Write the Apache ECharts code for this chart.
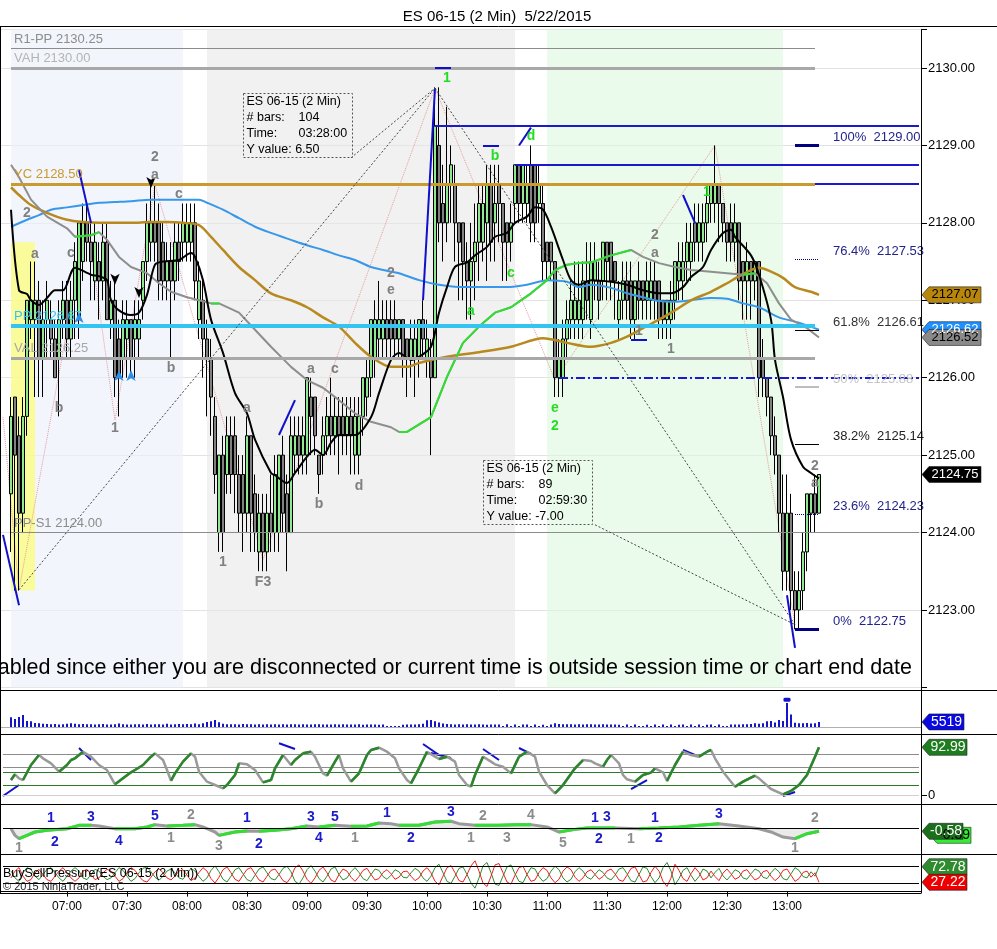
<!DOCTYPE html>
<html><head><meta charset="utf-8">
<script src="https://cdn.jsdelivr.net/npm/echarts@6.0.0/dist/echarts.min.js"></script>
<style>html,body{margin:0;padding:0;background:#fff;}#chart{width:997px;height:949px;}</style>
</head><body><div id="chart"></div>
<script>
// ================= DATA =================
const firstCategory = '06:28';      // first slot of the time axis (2-min bars)
const categoryCount = 230;
const barOffset = 2;                // first bar (06:32) sits in slot 2
const timeTicks = ['07:00','07:30','08:00','08:30','09:00','09:30','10:00','10:30','11:00','11:30','12:00','12:30','13:00'];
const priceTicks = [2123,2124,2125,2126,2127,2128,2129,2130];

// [open, close, low, high] per 2-min bar from 06:32
const ohlc = [
[2124.5,2125.5,2123.75,2125.75],[2125.75,2125.0,2123.25,2125.75],[2125.25,2124.25,2123.25,2125.5],[2124.25,2125.5,2124.0,2125.75],
[2125.5,2127.0,2125.25,2127.0],[2126.75,2127.0,2126.5,2127.5],[2126.75,2127.0,2125.75,2127.5],[2127.0,2126.25,2125.75,2127.25],
[2126.25,2126.75,2125.75,2127.0],[2126.75,2127.0,2126.25,2127.25],[2126.75,2126.5,2126.25,2127.0],[2126.5,2126.0,2126.0,2126.75],
[2126.25,2126.75,2125.5,2127.0],[2126.75,2127.0,2126.5,2127.25],[2127.0,2126.5,2126.25,2127.25],[2126.5,2127.0,2126.25,2127.25],
[2127.0,2127.5,2126.5,2127.75],[2126.75,2128.0,2126.5,2128.0],[2127.5,2128.0,2127.25,2128.25],[2128.0,2127.75,2127.5,2128.25],
[2127.75,2127.5,2127.0,2128.0],[2127.25,2127.75,2127.0,2128.0],[2127.5,2127.25,2126.75,2127.75],[2127.25,2127.75,2127.0,2128.0],
[2127.75,2126.75,2126.75,2128.0],[2126.75,2127.0,2126.5,2127.25],[2127.0,2126.0,2125.75,2127.25],[2126.5,2126.0,2125.5,2126.75],
[2126.25,2126.75,2126.0,2127.0],[2126.5,2126.75,2126.0,2127.0],[2126.75,2126.25,2126.0,2126.75],[2126.5,2126.75,2126.0,2127.0],
[2126.5,2126.75,2126.25,2127.0],[2127.0,2127.5,2126.75,2127.5],[2127.5,2128.0,2127.25,2128.25],[2127.75,2128.0,2127.5,2128.5],
[2128.0,2127.75,2127.5,2128.5],[2128.0,2127.25,2127.0,2128.25],[2127.75,2127.25,2127.0,2128.0],[2127.25,2127.5,2127.0,2127.75],
[2127.5,2127.25,2126.25,2127.75],[2127.25,2127.75,2127.0,2128.0],[2127.75,2127.5,2127.25,2128.0],[2127.75,2128.0,2127.5,2128.25],
[2127.75,2128.0,2127.5,2128.25],[2127.75,2128.0,2127.5,2128.25],[2128.0,2127.25,2127.0,2128.25],[2126.75,2127.25,2126.5,2127.5],
[2127.0,2126.5,2126.0,2127.25],[2126.5,2126.25,2125.5,2126.75],[2126.25,2125.75,2125.25,2126.5],[2125.5,2124.75,2124.5,2125.75],
[2124.0,2125.0,2123.75,2125.0],[2125.0,2124.0,2123.75,2125.25],[2124.75,2125.25,2124.5,2125.5],[2125.25,2124.75,2124.5,2125.5],
[2125.25,2124.75,2124.25,2125.5],[2124.75,2124.25,2124.0,2125.0],[2124.75,2124.25,2123.75,2125.0],[2124.25,2125.25,2124.0,2125.5],
[2125.25,2124.25,2123.75,2125.25],[2124.5,2124.0,2123.75,2124.75],[2123.75,2124.25,2123.5,2124.5],[2124.25,2123.75,2123.5,2124.5],
[2123.75,2124.25,2123.5,2124.5],[2124.25,2124.0,2123.75,2124.75],[2124.0,2124.75,2123.75,2125.0],[2124.0,2125.0,2123.75,2125.0],
[2125.0,2124.25,2124.0,2125.25],[2124.5,2124.0,2123.5,2124.75],[2124.0,2125.25,2124.0,2125.5],[2125.0,2125.25,2124.75,2125.5],
[2125.25,2125.0,2124.75,2125.5],[2125.0,2125.25,2124.75,2125.5],[2125.0,2126.0,2124.75,2126.0],[2125.75,2125.5,2125.0,2126.0],
[2125.75,2125.25,2125.0,2125.75],[2125.0,2124.75,2124.5,2125.0],[2125.0,2125.25,2124.75,2125.5],[2125.25,2125.5,2125.0,2125.75],
[2125.5,2125.25,2125.0,2126.0],[2125.25,2125.5,2125.0,2125.75],[2125.5,2125.25,2124.75,2125.75],[2125.5,2125.25,2125.0,2125.75],
[2125.25,2125.5,2125.0,2125.75],[2125.5,2125.25,2124.75,2125.75],[2125.0,2125.5,2124.75,2125.75],[2125.0,2125.5,2124.75,2125.75],
[2125.5,2126.0,2125.25,2126.0],[2125.75,2126.0,2125.5,2126.25],[2126.0,2126.75,2125.75,2126.75],[2126.25,2126.75,2126.0,2127.0],
[2126.5,2126.75,2126.25,2127.25],[2126.5,2126.75,2126.25,2127.0],[2126.75,2126.5,2126.25,2127.0],[2126.75,2126.5,2126.25,2127.0],
[2126.75,2126.5,2126.25,2127.0],[2126.5,2126.75,2126.25,2126.75],[2126.75,2126.25,2126.0,2126.75],[2126.5,2126.25,2125.75,2126.5],
[2126.25,2126.5,2126.0,2126.75],[2126.25,2126.5,2125.75,2126.75],[2126.25,2126.75,2126.0,2126.75],[2126.75,2126.5,2126.25,2127.0],
[2126.25,2126.5,2126.0,2126.75],[2126.25,2126.0,2125.0,2126.5],[2126.0,2129.25,2126.0,2129.75],[2129.0,2128.0,2127.75,2129.75],
[2128.25,2128.0,2127.5,2128.75],[2128.0,2128.5,2127.75,2129.5],[2128.5,2128.75,2128.0,2129.0],[2128.5,2128.0,2127.5,2128.75],
[2128.0,2127.75,2127.0,2128.0],[2128.0,2127.5,2127.0,2128.0],[2127.5,2127.25,2126.75,2127.75],[2127.25,2127.5,2126.75,2128.0],
[2127.5,2127.75,2127.0,2128.25],[2127.75,2128.25,2127.25,2128.5],[2127.75,2128.25,2127.5,2128.5],[2128.0,2128.5,2127.25,2128.75],
[2128.5,2127.75,2127.5,2128.75],[2128.0,2128.25,2127.5,2128.75],[2128.5,2128.25,2127.75,2128.75],[2128.25,2127.75,2127.25,2128.25],
[2128.0,2127.75,2127.25,2128.0],[2127.75,2128.0,2127.5,2128.25],[2128.25,2128.75,2128.0,2128.75],[2128.75,2128.25,2128.0,2128.75],
[2128.25,2128.75,2128.0,2128.75],[2128.25,2128.5,2128.0,2128.75],[2128.75,2128.0,2127.75,2129.0],[2128.75,2128.0,2127.75,2128.75],
[2128.25,2128.5,2128.0,2128.75],[2128.25,2127.5,2127.25,2128.5],[2127.75,2127.5,2127.25,2127.75],[2127.75,2127.5,2127.25,2127.75],
[2127.5,2126.0,2125.75,2127.5],[2126.0,2126.25,2125.75,2126.5],[2126.0,2126.5,2125.75,2126.75],[2126.5,2126.75,2126.25,2127.0],
[2126.75,2127.0,2126.5,2127.25],[2126.75,2127.0,2126.5,2127.5],[2126.75,2127.0,2126.5,2127.5],[2126.75,2127.25,2126.5,2127.5],
[2127.25,2127.0,2126.75,2127.75],[2126.75,2127.5,2126.5,2127.75],[2127.25,2127.5,2127.0,2127.75],[2127.25,2127.0,2126.75,2127.5],
[2127.25,2127.75,2127.0,2127.75],[2127.75,2127.5,2127.0,2127.75],[2127.75,2127.25,2127.0,2127.75],[2127.5,2127.25,2126.75,2127.5],
[2126.75,2127.0,2126.5,2127.25],[2127.0,2127.25,2126.75,2127.5],[2127.25,2127.0,2126.75,2127.5],[2127.25,2126.75,2126.5,2127.5],
[2126.75,2127.25,2126.5,2127.25],[2127.25,2127.0,2126.75,2127.5],[2127.25,2127.0,2126.75,2127.25],[2127.0,2127.25,2126.75,2127.5],
[2127.0,2127.25,2126.75,2127.5],[2127.25,2127.0,2126.75,2127.5],[2127.25,2126.75,2126.5,2127.25],[2127.0,2126.75,2126.5,2127.0],
[2126.75,2127.0,2126.5,2127.0],[2126.75,2127.0,2126.5,2127.25],[2127.0,2127.5,2126.75,2127.5],[2127.25,2127.5,2127.0,2127.75],
[2127.25,2127.5,2127.0,2127.75],[2127.5,2127.75,2127.25,2128.0],[2127.5,2127.75,2127.25,2128.0],[2128.0,2127.75,2127.5,2128.25],
[2127.75,2128.0,2127.5,2128.25],[2127.75,2128.0,2127.5,2128.25],[2128.0,2128.25,2127.75,2128.5],[2128.25,2128.5,2128.0,2128.5],
[2128.25,2128.5,2128.0,2129.0],[2128.5,2128.25,2127.75,2128.5],[2128.25,2128.0,2127.75,2128.25],[2128.0,2127.75,2127.5,2128.0],
[2128.0,2127.75,2127.5,2128.25],[2127.75,2128.0,2127.5,2128.25],[2128.0,2127.25,2127.0,2128.0],[2127.5,2127.25,2126.75,2127.5],
[2127.25,2127.5,2126.75,2127.75],[2127.5,2127.25,2126.75,2127.5],[2127.25,2127.5,2127.0,2127.5],[2127.5,2126.0,2125.75,2127.5],
[2126.25,2126.0,2125.75,2126.5],[2126.0,2125.75,2125.5,2126.0],[2125.75,2125.25,2125.0,2125.75],[2125.25,2125.0,2124.75,2125.5],
[2125.0,2124.25,2124.0,2125.0],[2124.25,2123.5,2123.25,2124.75],[2123.5,2124.25,2123.25,2124.75],[2124.25,2123.25,2123.0,2124.5],
[2123.25,2123.0,2122.75,2123.5],[2123.0,2123.25,2122.75,2123.5],[2123.25,2123.75,2123.0,2124.0],[2123.75,2124.5,2123.5,2124.5],
[2124.25,2124.5,2124.0,2124.5],[2124.5,2124.25,2124.0,2124.75],[2124.25,2124.75,2124.25,2124.75]
];

const volume = [
10500,8600,10800,12900,6500,6200,4300,4000,3500,3200,
3000,3200,2800,3100,3400,4200,3600,3000,3300,2900,
3100,2700,3000,3200,2600,2800,3100,3900,3000,2800,
2700,3100,2900,2600,3300,2800,2900,3000,2700,3400,
2800,3000,3200,2900,3300,3000,3800,3100,4200,5400,
6300,7600,5200,3600,3100,2900,3000,2800,3200,3000,
2900,2700,3100,2800,3000,2600,2900,2700,3000,2800,
3100,2900,2700,3000,2800,2600,2900,3100,2700,2800,
2600,2900,2700,3000,2800,2600,2700,2900,2500,2800,
2600,2700,2500,2800,1200,1000,1100,1000,2400,2600,
2700,2800,3000,3400,7400,7600,6200,4800,3900,3200,
3000,2800,3100,2700,2900,2600,2800,3000,2700,2500,
2800,2600,2700,1200,2900,1100,2600,1000,2800,2700,
1200,2600,1000,2500,1100,2700,4200,3300,3100,2900,
3000,2800,3100,2700,2900,3000,2800,2600,2900,2700,
2800,2600,2500,1100,2700,1000,2600,1200,1000,2500,
1100,2700,1000,2600,1200,2800,1000,2500,2700,1100,
2600,1000,2800,1100,2500,2700,1000,2600,1200,1000,
2600,2800,2700,3000,3100,3300,4200,3600,4000,6200,
6400,5000,7600,6500,26000,13500,4600,4200,4000,4300,
3900,4100,5519
];

const buyPressure = [
60,40,30,55,70,65,45,35,50,65, 70,55,40,30,45,60,70,60,40,35,
50,65,60,45,35,40,55,70,62,45, 30,38,55,68,72,58,42,33,45,60,
66,55,40,36,52,68,60,44,30,40, 62,75,58,36,28,45,64,70,52,35,
30,48,66,72,55,38,34,50,68,74, 58,30,22,40,64,76,60,38,28,45,
66,72,50,34,40,58,70,56,38,32, 50,66,62,44,36,48,64,58,42,40,
55,68,60,40,30,45,70,80,55,30, 24,45,68,72,50,25,10,40,75,85,
55,22,18,45,72,78,52,30,26,50, 70,66,44,30,38,60,74,64,40,28,
36,58,70,60,42,36,50,64,56,40, 34,48,66,70,52,32,28,50,72,68,
44,26,40,70,85,60,20,38,62,70, 48,30,44,66,60,40,56,68,46,34,
48,64,58,40,36,52,66,60,42,38, 55,68,58,38,34,52,70,62,44,40,
58,45,72.78
];
const sellPressure = [
40,60,70,45,30,35,55,65,50,35, 30,45,60,70,55,40,30,40,60,65,
50,35,40,55,65,60,45,30,38,55, 70,62,45,32,28,42,58,67,55,40,
34,45,60,64,48,32,40,56,70,60, 38,25,42,64,72,55,36,30,48,65,
70,52,34,28,45,62,66,50,32,26, 42,70,78,60,36,24,40,62,72,55,
34,28,50,66,60,42,30,44,62,68, 50,34,38,56,64,52,36,42,58,60,
45,32,40,60,70,55,30,20,45,70, 76,55,32,28,50,75,90,60,25,15,
45,78,82,55,28,22,48,70,74,50, 30,34,56,70,62,40,26,36,60,72,
64,42,30,40,58,64,50,36,44,60, 66,52,34,30,48,68,72,50,28,32,
56,74,60,30,15,40,80,62,38,30, 52,70,56,34,40,60,44,32,54,66,
52,36,42,60,64,48,34,40,58,62, 45,32,42,62,66,48,30,38,56,60,
42,55,27.22
];

// moving averages: [bar index, price]
const emaFast = [[0,2128.17],[2,2127.13],[4,2127.08],[5,2127.0],[7,2126.94],[9,2127.03],[11,2127.13],[13,2127.13],[16,2127.42],[20,2127.33],[22,2127.31],[24,2127.26],[25,2127.0],[27,2126.87],[30,2126.81],[32,2126.84],[34,2127.07],[36,2127.46],[38,2127.5],[42,2127.52],[45,2127.61],[46,2127.56],[48,2127.26],[50,2126.75],[53,2126.32],[56,2125.8],[59,2125.54],[61,2125.2],[65,2124.77],[66,2124.74],[69,2124.64],[71,2124.77],[74,2124.98],[76,2125.07],[78,2125.0],[80,2125.16],[82,2125.26],[86,2125.26],[90,2125.49],[92,2125.8],[95,2126.23],[97,2126.32],[100,2126.23],[102,2126.27],[105,2126.4],[107,2126.84],[109,2127.17],[111,2127.43],[114,2127.49],[116,2127.58],[119,2127.69],[121,2127.82],[124,2127.87],[126,2128.0],[129,2128.08],[131,2128.2],[133,2128.17],[135,2127.95],[138,2127.52],[140,2127.26],[142,2127.2],[145,2127.26],[150,2127.24],[154,2127.2],[158,2127.13],[162,2127.09],[165,2127.09],[168,2127.17],[170,2127.3],[173,2127.43],[175,2127.65],[178,2127.87],[180,2127.91],[181,2127.82],[185,2127.58],[187,2127.33],[190,2126.75],[191,2126.23],[193,2125.75],[195,2125.2],[198,2124.85],[200,2124.77],[202,2124.7]];
const maMid = [[0,2128.75],[2,2128.59],[5,2128.3],[9,2128.08],[14,2127.93],[16,2127.82],[20,2127.84],[22,2127.88],[24,2127.78],[27,2127.56],[30,2127.43],[34,2127.35],[37,2127.22],[40,2127.11],[44,2127.04],[47,2127.0],[50,2126.96],[52,2126.96],[57,2126.84],[61,2126.62],[65,2126.4],[70,2126.14],[74,2125.97],[78,2125.87],[82,2125.71],[86,2125.54],[90,2125.43],[95,2125.36],[97,2125.3],[99,2125.3],[105,2125.49],[109,2126.01],[113,2126.45],[117,2126.66],[121,2126.84],[125,2126.91],[130,2127.09],[134,2127.26],[136,2127.39],[139,2127.46],[142,2127.48],[145,2127.49],[150,2127.58],[155,2127.65],[158,2127.56],[162,2127.48],[166,2127.43],[170,2127.39],[175,2127.37],[179,2127.35],[183,2127.33],[186,2127.35],[189,2127.22],[192,2126.96],[195,2126.75],[199,2126.64],[202,2126.52]];
const maSlow = [[0,2128.46],[2,2128.36],[5,2128.23],[9,2128.13],[14,2128.04],[18,2128.01],[22,2128.0],[30,2128.0],[35,2128.01],[39,2128.01],[43,2128.0],[47,2127.97],[50,2127.82],[53,2127.65],[57,2127.43],[61,2127.26],[65,2127.09],[70,2127.0],[74,2126.91],[78,2126.78],[82,2126.66],[86,2126.45],[90,2126.27],[95,2126.14],[99,2126.14],[102,2126.19],[109,2126.27],[117,2126.33],[125,2126.4],[133,2126.51],[139,2126.45],[145,2126.4],[150,2126.45],[154,2126.53],[158,2126.64],[162,2126.75],[166,2126.87],[170,2127.0],[175,2127.11],[179,2127.22],[182,2127.31],[187,2127.42],[190,2127.37],[193,2127.29],[196,2127.17],[200,2127.11],[202,2127.07]];
const maLong = [[0,2127.95],[4,2128.04],[7,2128.1],[10,2128.17],[14,2128.2],[18,2128.23],[22,2128.26],[26,2128.27],[30,2128.28],[35,2128.3],[43,2128.3],[47,2128.3],[49,2128.26],[53,2128.17],[57,2128.06],[61,2127.95],[65,2127.87],[70,2127.78],[74,2127.71],[78,2127.65],[82,2127.58],[86,2127.52],[90,2127.43],[95,2127.37],[97,2127.35],[102,2127.26],[107,2127.2],[113,2127.17],[119,2127.17],[124,2127.17],[129,2127.2],[134,2127.26],[139,2127.24],[142,2127.17],[145,2127.2],[150,2127.16],[154,2127.09],[158,2127.04],[162,2126.99],[166,2126.98],[170,2127.0],[175,2127.03],[179,2127.02],[183,2126.96],[187,2126.91],[192,2126.78],[197,2126.71],[202,2126.62]];

// oscillator panels: [bar index, value]
const stoch = [[0,29.2],[1,40.3],[2,32.5],[3,29.2],[5,58.5],[7,78],[8,71.5],[10,61.7],[12,45.5],[14,58.5],[15,68.2],[16,71.5],[18,84.4],[20,74.7],[22,58.5],[24,48.7],[26,20.8],[28,32.5],[30,44.2],[31,48.7],[33,58.5],[35,74.7],[36,81.2],[38,68.2],[39,48.7],[40,27.9],[41,42.2],[43,65],[45,81.2],[46,74.7],[47,45.5],[49,26],[51,19.5],[53,13],[54,19.5],[56,39],[57,61.7],[59,59.8],[61,48.7],[63,24.7],[65,29.2],[66,52],[68,78],[70,58.5],[71,68.2],[73,81.2],[75,84.4],[76,74.7],[78,42.2],[79,37.7],[81,65],[82,78],[83,52],[85,26],[87,42.2],[89,78],[90,87.7],[92,92.2],[94,84.4],[96,71.5],[97,52],[99,29.2],[100,22.7],[102,52],[104,84.4],[106,74.7],[107,70.2],[109,74.7],[111,65],[112,39],[114,19.5],[115,16.2],[116,39],[118,74.7],[120,65],[121,59.8],[123,55.2],[125,42.2],[127,74.7],[129,84.4],[131,74.7],[132,45.5],[134,19.5],[136,3.2],[138,19.5],[141,52],[143,68.2],[145,66.3],[146,61.7],[148,55.2],[149,68.2],[150,78],[152,61.7],[153,39],[154,30.6],[156,26],[158,39],[160,43.6],[161,52],[163,44.2],[164,27.3],[166,58.5],[168,84.4],[170,78],[172,74.7],[174,84.4],[175,87.7],[176,71.5],[178,45.5],[181,16.2],[183,26],[186,37.7],[187,32.5],[190,11.7],[193,1.3],[195,7.8],[197,19.5],[199,39],[201,74.7],[202,92.99]];
const stochLevels = [80,55,45,20];
const macd = [[0,-0.12],[1,-1.29],[2,-1.88],[4,-1.29],[6,-0.7],[9,-0.41],[14,-0.12],[17,0.47],[20,0.47],[22,0.35],[26,-0.12],[31,-0.12],[34,0.18],[36,0.59],[39,0.35],[43,0.47],[46,0.59],[48,0.18],[51,-0.7],[52,-1.29],[56,-0.7],[59,-0.53],[62,-0.59],[66,-0.41],[70,-0.12],[74,0.35],[77,0.18],[81,0.47],[85,0.29],[89,0.35],[92,0.88],[95,0.76],[97,0.47],[102,0.47],[106,1.06],[110,1.18],[112,0.76],[116,0.47],[119,0.47],[122,0.47],[126,0.59],[130,0.59],[134,0.18],[137,-0.7],[141,-0.24],[144,0],[151,0],[157,-0.12],[162,0],[167,0.18],[172,0.47],[177,0.76],[182,0.35],[187,-0.12],[190,-0.7],[193,-1.59],[196,-1.88],[199,-1.0],[202,-0.58]];
const pressureLevels = [75,25];

// price levels
const pivotLabels = ['R1-PP 2130.25','VAH 2130.00','YC 2128.50','PP 2126.67','VAL 2126.25','PP-S1 2124.00'];
const pivotValues = [2130.25,2130.00,2128.50,2126.67,2126.25,2124.00];
const fibNames = ['100%','76.4%','61.8%','50%','38.2%','23.6%','0%'];
const fibValues = [2129.00,2127.53,2126.61,2125.88,2125.14,2124.23,2122.75];
const blueLevels = [2129.25,2128.75,2128.50];
const dashLevel = 2126.00;

// annotations: [bar index, price, text]
const greyWaveLabels = [[4,2128.13,'2'],[6,2127.6,'a'],[12,2125.61,'b'],[15,2127.61,'c'],[26,2125.35,'1'],[36,2128.85,'2'],[36,2128.62,'a'],[42,2128.37,'c'],[40,2126.13,'b'],[53,2123.62,'1'],[59,2125.61,'a'],[63,2123.36,'F3'],[75,2126.11,'a'],[81,2126.11,'c'],[77,2124.37,'b'],[87,2124.6,'d'],[95,2127.35,'2'],[95,2127.13,'e'],[161,2127.84,'2'],[161,2127.61,'a'],[157,2126.6,'1'],[165,2126.37,'1'],[201,2124.86,'2'],[201,2124.64,'a']];
const greenWaveLabels = [[109,2129.87,'1'],[121,2128.86,'b'],[130,2129.12,'d'],[115,2126.86,'a'],[125,2127.35,'c'],[136,2125.61,'e'],[136,2125.37,'2'],[174,2128.4,'1']];
const blueSegments = [[[-2,2123.97],[2,2123.06]],[[17,2128.68],[20,2128.0]],[[67,2125.26],[71,2125.71]],[[103,2127.0],[106,2129.74]],[[118,2129.0],[122,2129.0]],[[127,2129.0],[130,2129.23]],[[106,2130.0],[110,2130.0]],[[168,2128.36],[171,2128.0]],[[194,2123.19],[196,2122.51]],[[155,2126.49],[159,2126.49]]];
const dottedSegments = [[[2,2123.26],[106,2129.74]],[[85,2128.84],[106,2129.74]],[[106,2129.74],[196,2122.81]],[[146,2124.1],[196,2122.81]]];
const swingPath = [[-2,2125.49],[2,2123.26],[19,2128.01],[26,2125.45],[36,2128.49],[63,2123.65],[106,2129.74],[136,2125.97],[176,2129.0],[196,2122.81]];
const downArrows = [[26,2127.2],[32,2127.03],[35,2128.45]];
const upArrows = [[17,2126.85],[27,2126.1],[30,2126.1]];
const macdLabels = [[10,1.75,'1','b'],[11,-2.46,'2','b'],[20,1.93,'3','b'],[27,-2.28,'4','b'],[36,2.1,'5','b'],[45,2.28,'2','g'],[40,-1.75,'1','g'],[52,-3.16,'3','g'],[59,1.75,'1','b'],[62,-2.8,'2','b'],[75,1.93,'3','b'],[81,1.93,'5','b'],[77,-1.75,'4','b'],[86,-1.75,'1','g'],[94,2.63,'1','b'],[100,-1.75,'2','b'],[110,2.8,'3','b'],[118,2.1,'2','g'],[115,-1.75,'1','g'],[124,-1.75,'3','g'],[130,2.28,'4','g'],[138,-2.63,'5','g'],[146,1.75,'1','b'],[149,1.93,'3','b'],[147,-1.93,'2','b'],[155,-1.93,'1','g'],[161,1.75,'1','b'],[162,-1.75,'2','b'],[177,2.46,'3','b'],[201,1.75,'2','g'],[196,-3.5,'1','g'],[2,-3.5,'1','g']];
const stochMarks = [[[-2,-2],[2,19.5]],[[17,91.6],[20,68.2]],[[67,101],[71,89.7]],[[103,99.4],[107,78]],[[105,81.9],[110,72.1]],[[118,89.7],[122,68.2]],[[127,91.6],[130,80]],[[155,11.7],[159,29.2]],[[168,87.7],[171,78]],[[193,-2],[196,5.8]]];

// ================= BUILD =================
const FONT = 'Liberation Sans, Arial, sans-serif';
const cats = [];
(function(){ const p = firstCategory.split(':'); const m0 = (+p[0])*60 + (+p[1]);
  for (let k = 0; k < categoryCount; k++) { const m = m0 + 2*k; cats.push(String(Math.floor(m/60)).padStart(2,'0') + ':' + String(m%60).padStart(2,'0')); } })();
const cat = i => cats[Math.max(0, Math.min(categoryCount-1, i + barOffset))];
const pad = new Array(barOffset).fill('-');
const P = pts => pts.map(p => [cat(p[0]), p[1]]);
function rising(pts) { const out = []; for (let k = 0; k < pts.length-1; k++) { const a = pts[k], b = pts[k+1]; if (b[1] >= a[1]) { out.push([cat(a[0]), a[1]], [cat(b[0]), b[1]], [cat(b[0]), '-']); } } return out; }
const isTick = (idx, val) => timeTicks.indexOf(val) >= 0;

function xAxisFor(gi, showLabels, showLine, lineColor) {
  return { type:'category', gridIndex:gi, data:cats, boundaryGap:true,
    axisLine:{show:showLine, lineStyle:{color:lineColor||'#000', width:1}},
    axisTick:{show:showLabels, interval:isTick, alignWithLabel:true, length:5, lineStyle:{color:'#000'}},
    axisLabel:{show:showLabels, interval:isTick, color:'#000', fontSize:12, margin:8, fontFamily:FONT},
    splitLine:{show:false} };
}
const plainY = (gi, min, max) => ({ type:'value', gridIndex:gi, position:'right', min, max, scale:true,
  axisLine:{show:false}, axisTick:{show:false}, axisLabel:{show:false}, splitLine:{show:false} });

const pivotStyle = [
  {c:'#8c8c8c', w:1, lc:'#8c8c8c', to:201},
  {c:'#a8a8a8', w:3, lc:'#b4b4b4', to:201},
  {c:'#c99a2e', w:3, lc:'#c99a2e', to:201},
  {c:'#35c4f2', w:4, lc:'#35c4f2', to:201},
  {c:'#a8a8a8', w:3, lc:'#a8a8a8', to:201},
  {c:'#8c8c8c', w:1, lc:'#8c8c8c', to:227}
];
const fibStyle = [
  {c:'#000080', w:3, t:'solid', lc:'#23238c'},
  {c:'#000080', w:1, t:'dotted', lc:'#23238c'},
  {c:'#000000', w:1, t:'solid', lc:'#333333'},
  {c:'#bdbdbd', w:2, t:'solid', lc:'#c4c4c4'},
  {c:'#000000', w:1, t:'solid', lc:'#222222'},
  {c:'#000080', w:1, t:'dotted', lc:'#23238c'},
  {c:'#000080', w:3, t:'solid', lc:'#23238c'}
];

const levelLineData = [];
pivotValues.forEach((v, k) => {
  const s = pivotStyle[k];
  levelLineData.push([{coord:[cat(0), v], lineStyle:{color:s.c, width:s.w, type:'solid'},
     label:{show:true, position:'insideStartTop', formatter:pivotLabels[k], color:s.lc, fontSize:13, fontFamily:FONT, distance:3}},
     {coord:[cat(s.to), v]}]);
});
const blueFrom = [106, 126, 201];
blueLevels.forEach((v, k) => levelLineData.push([{coord:[cat(blueFrom[k]), v], lineStyle:{color:'#1a1acc', width:2, type:'solid'}, label:{show:false}}, {coord:[cat(227), v]}]));
levelLineData.push([{coord:[cat(137), dashLevel], lineStyle:{color:'#1a1acc', width:2, type:[9,3,2,3]}, label:{show:false}}, {coord:[cat(227), dashLevel]}]);
fibValues.forEach((v, k) => {
  const s = fibStyle[k];
  levelLineData.push([{coord:[cat(196), v], lineStyle:{color:s.c, width:s.w, type:s.t},
    label:{show:true, position:'end', distance:14, offset:[0,-8], formatter:fibNames[k] + '  ' + v.toFixed(2), color:s.lc, fontSize:13, fontFamily:FONT}},
    {coord:[cat(202), v]}]);
});
blueSegments.forEach(sg => levelLineData.push([{coord:[cat(sg[0][0]), sg[0][1]], lineStyle:{color:'#1010cc', width:2, type:'solid'}, label:{show:false}}, {coord:[cat(sg[1][0]), sg[1][1]]}]));
dottedSegments.forEach(sg => levelLineData.push([{coord:[cat(sg[0][0]), sg[0][1]], lineStyle:{color:'#444', width:1, type:[2,2]}, label:{show:false}}, {coord:[cat(sg[1][0]), sg[1][1]]}]));

const letterPoints = [];
greyWaveLabels.forEach(a => letterPoints.push({coord:[cat(a[0]), a[1]], symbol:'circle', symbolSize:0,
  label:{show:true, position:'inside', formatter:a[2], color:'#808080', fontWeight:'bold', fontSize:14, fontFamily:FONT}}));
greenWaveLabels.forEach(a => letterPoints.push({coord:[cat(a[0]), a[1]], symbol:'circle', symbolSize:0,
  label:{show:true, position:'inside', formatter:a[2], color:'#22dd22', fontWeight:'bold', fontSize:14, fontFamily:FONT}}));
downArrows.forEach(a => letterPoints.push({coord:[cat(a[0]), a[1]], symbol:'arrow', symbolSize:[7,11], symbolRotate:180, itemStyle:{color:'#000'}, label:{show:false}}));
upArrows.forEach(a => letterPoints.push({coord:[cat(a[0]), a[1]], symbol:'arrow', symbolSize:[7,11], itemStyle:{color:'#2f8fe8'}, label:{show:false}}));

const macdPoints = macdLabels.map(a => ({coord:[cat(a[0]), a[1]], symbol:'circle', symbolSize:0,
  label:{show:true, position:'inside', formatter:a[2], color: a[3]==='b' ? '#1a1acc' : '#8c8c8c', fontWeight:'bold', fontSize:14, fontFamily:FONT}}));

const stochMarkData = stochMarks.map(sg => [{coord:[cat(sg[0][0]), sg[0][1]]}, {coord:[cat(sg[1][0]), sg[1][1]]}]);
stochLevels.forEach((v, k) => stochMarkData.push([{coord:[cat(-2), v], lineStyle:{color: k < 2 ? '#8c8c8c' : '#2a7a2a', width:1, type:'solid'}}, {coord:[cat(227), v]}]));
stochMarkData.push([{coord:[cat(-2), 0], lineStyle:{color:'#d0d0d0', width:1, type:'solid'}}, {coord:[cat(227), 0]}]);

const option = {
  animation:false,
  backgroundColor:'#fff',
  textStyle:{fontFamily:FONT},
  title:{text:'ES 06-15 (2 Min)  5/22/2015', left:492, textAlign:'center', top:4, textStyle:{fontSize:15, fontWeight:'normal', color:'#000', fontFamily:FONT}},
  grid:[
    {left:1, right:76, top:29.3, height:658.1},
    {left:1, right:76, top:692, height:35},
    {left:1, right:76, top:734, height:70},
    {left:1, right:76, top:804, height:50},
    {left:1, right:76, top:854, height:39}
  ],
  xAxis:[ xAxisFor(0,false,false), xAxisFor(1,false,true,'#b0b0b0'), xAxisFor(2,false,false), xAxisFor(3,false,false), xAxisFor(4,true,true) ],
  yAxis:[
    { type:'value', gridIndex:0, position:'right', min:2122, max:2130.5, interval:1,
      axisLine:{show:true, lineStyle:{color:'#000'}},
      axisTick:{show:true, length:6, lineStyle:{color:'#000'}},
      axisLabel:{color:'#000', fontSize:13, margin:7, fontFamily:FONT,
        formatter: v => (priceTicks.indexOf(Math.round(v*100)/100) >= 0 ? v.toFixed(2) : '')},
      splitLine:{show:true, lineStyle:{color:'#e2e2e2', width:1}} },
    plainY(1, 0, 38000),
    { type:'value', gridIndex:2, position:'right', min:-17.5, max:118.9,
      axisLine:{show:false}, axisTick:{show:true, customValues:[0], length:6, lineStyle:{color:'#000'}},
      axisLabel:{show:true, customValues:[0], color:'#000', fontSize:13, margin:7, formatter:v => String(Math.round(v))},
      splitLine:{show:false} },
    plainY(3, -4.56, 4.21),
    plainY(4, -4.1, 109.9)
  ],
  series:[
    { name:'bands', type:'line', xAxisIndex:0, yAxisIndex:0, data:[[cat(0), null]], symbol:'none', z:0,
      markArea:{silent:true, z:1, data:[
        [{coord:[cat(0), 2130.5], itemStyle:{color:'rgba(236,240,251,0.65)'}}, {coord:[cat(43), 2122]}],
        [{coord:[cat(49), 2130.5], itemStyle:{color:'rgba(232,232,232,0.6)'}}, {coord:[cat(126), 2122]}],
        [{coord:[cat(134), 2130.5], itemStyle:{color:'rgba(222,249,222,0.6)'}}, {coord:[cat(193), 2122]}],
        [{coord:[cat(0), 2127.75], itemStyle:{color:'rgba(255,255,90,0.6)'}}, {coord:[cat(6), 2123.25]}]
      ]} },
    { name:'swing', type:'line', xAxisIndex:0, yAxisIndex:0, data:P(swingPath), symbol:'none', z:1,
      lineStyle:{color:'#e79a9a', width:1, type:'dotted'} },
    { name:'ES 06-15', type:'candlestick', xAxisIndex:0, yAxisIndex:0, data:pad.concat(ohlc), barWidth:3, z:2,
      itemStyle:{color:'#90e890', color0:'#808080', borderColor:'#000', borderColor0:'#000', borderWidth:1} },
    { name:'MA long', type:'line', xAxisIndex:0, yAxisIndex:0, data:P(maLong), symbol:'none', smooth:0.3, z:3,
      lineStyle:{color:'#3797ea', width:2} },
    { name:'MA slow', type:'line', xAxisIndex:0, yAxisIndex:0, data:P(maSlow), symbol:'none', smooth:0.3, z:3,
      lineStyle:{color:'#b8891f', width:2.5} },
    { name:'MA mid', type:'line', xAxisIndex:0, yAxisIndex:0, data:P(maMid), symbol:'none', z:3,
      lineStyle:{color:'#8e8e8e', width:2} },
    { name:'MA mid rising', type:'line', xAxisIndex:0, yAxisIndex:0, data:rising(maMid), symbol:'none', z:3, connectNulls:false,
      lineStyle:{color:'#2ee02e', width:2} },
    { name:'EMA fast', type:'line', xAxisIndex:0, yAxisIndex:0, data:P(emaFast), symbol:'none', smooth:0.3, z:4,
      lineStyle:{color:'#000', width:2},
      markLine:{silent:true, symbol:['none','none'], z:5, data:levelLineData},
      markPoint:{silent:true, z:6, data:letterPoints} },
    { name:'Volume', type:'bar', xAxisIndex:1, yAxisIndex:1, data:pad.concat(volume), barWidth:2,
      itemStyle:{color:'#1414cc'},
      markPoint:{silent:true, data:[{coord:[cat(194), 29500], symbol:'roundRect', symbolSize:[7,4], itemStyle:{color:'#1414cc'}, label:{show:false}}]} },
    { name:'Stoch', type:'line', xAxisIndex:2, yAxisIndex:2, data:P(stoch), symbol:'none', z:3,
      lineStyle:{color:'#9a9a9a', width:2.5},
      markLine:{silent:true, symbol:['none','none'], z:2, label:{show:false}, lineStyle:{color:'#1010cc', width:2, type:'solid'}, data:stochMarkData} },
    { name:'Stoch rising', type:'line', xAxisIndex:2, yAxisIndex:2, data:rising(stoch), symbol:'none', z:4, connectNulls:false,
      lineStyle:{color:'#2a862a', width:2.5} },
    { name:'Osc', type:'line', xAxisIndex:3, yAxisIndex:3, data:P(macd), symbol:'none', z:3,
      lineStyle:{color:'#9a9a9a', width:3},
      areaStyle:{origin:0, color:'rgba(120,120,120,0.22)'},
      markLine:{silent:true, symbol:['none','none'], label:{show:false}, data:[[{coord:[cat(-2),0], lineStyle:{color:'#000', width:1, type:'solid'}}, {coord:[cat(227),0]}]]},
      markPoint:{silent:true, data:macdPoints} },
    { name:'Osc rising', type:'line', xAxisIndex:3, yAxisIndex:3, data:rising(macd), symbol:'none', z:4, connectNulls:false,
      lineStyle:{color:'#33dd33', width:3} },
    { name:'Buy', type:'line', xAxisIndex:4, yAxisIndex:4, data:pad.concat(buyPressure), symbol:'none', z:3,
      lineStyle:{color:'#2e8b2e', width:1},
      markLine:{silent:true, symbol:['none','none'], label:{show:false}, data: pressureLevels.map(v => [{coord:[cat(-2), v], lineStyle:{color:'#000', width:1, type:'solid'}}, {coord:[cat(227), v]}])} },
    { name:'Sell', type:'line', xAxisIndex:4, yAxisIndex:4, data:pad.concat(sellPressure), symbol:'none', z:3,
      lineStyle:{color:'#ee2020', width:1} }
  ]
};

const chart = echarts.init(document.getElementById('chart'), null, {renderer:'canvas'});
chart.setOption(option);

// ---- overlay: frames, texts, price tags ----
const Y = (gi, v) => chart.convertToPixel({yAxisIndex:gi}, v);
function tag(y, text, bg, fg, w, fs, dx) {
  const x0 = 922 + (dx||0);
  return [
    {type:'polygon', z:200, shape:{points:[[x0,y],[x0+7,y-8],[x0+w,y-8],[x0+w,y+8],[x0+7,y+8]]}, style:{fill:bg, stroke:'#222', lineWidth:0.6}},
    {type:'text', z:201, x:x0 + 7 + (w-7)/2, y:y, style:{text:text, fill:fg, font:fs+'px '+FONT, align:'center', verticalAlign:'middle', textAlign:'center', textVerticalAlign:'middle'}}
  ];
}
function hline(y, x1, x2, c) { return {type:'line', z:150, shape:{x1:x1, y1:y, x2:x2, y2:y}, style:{stroke:c||'#000', lineWidth:1}}; }
function vline(x, y1, y2) { return {type:'line', z:150, shape:{x1:x, y1:y1, x2:x, y2:y2}, style:{stroke:'#000', lineWidth:1}}; }
function txt(x, y, s, size, color, align) { return {type:'text', z:160, x:x, y:y, style:{text:s, fill:color||'#000', font:size+'px '+FONT, align:align||'left', verticalAlign:'middle', textAlign:align||'left', textVerticalAlign:'middle'}}; }
function infoBox(x, y, lines) {
  const g = [{type:'rect', z:120, shape:{x:x, y:y, width:109, height:64}, style:{fill:'rgba(0,0,0,0)', stroke:'#555', lineWidth:1, lineDash:[2,2]}}];
  g.push(txt(x+3, y+8, lines[0], 12.5));
  g.push(txt(x+3, y+24, lines[1][0], 12.5)); g.push(txt(x+55, y+24, lines[1][1], 12.5));
  g.push(txt(x+3, y+40, lines[2][0], 12.5)); g.push(txt(x+55, y+40, lines[2][1], 12.5));
  g.push(txt(x+3, y+56, lines[3], 12.5));
  return g;
}
const graphics = [].concat(
  [hline(26.5, 0, 997), hline(690.5, 0, 997), hline(734.5, 0, 997), hline(804.5, 0, 997), hline(854.5, 0, 997), hline(893.5, 0, 921),
   vline(0.5, 26.5, 893.5), vline(921.5, 32, 893.5)],
  infoBox(243.5, 93.5, ['ES 06-15 (2 Min)', ['# bars:', '104'], ['Time:', '03:28:00'], 'Y value: 6.50']),
  infoBox(483.5, 460.5, ['ES 06-15 (2 Min)', ['# bars:', '89'], ['Time:', '02:59:30'], 'Y value: -7.00']),
  [txt(912, 668, 'abled since either you are disconnected or current time is outside session time or chart end date', 21.5, '#000', 'right'),
   txt(3, 874, 'BuySellPressure(ES 06-15 (2 Min))', 12.5, '#000'),
   txt(3, 887, '\u00a9 2015 NinjaTrader, LLC', 11, '#222')],
  tag(Y(0, 2127.07), '2127.07', '#b8860b', '#000', 59, 13),
  tag(Y(0, 2126.62), '2126.62', '#1e90ff', '#fff', 59, 13),
  tag(Y(0, 2126.52), '2126.52', '#8a8a8a', '#000', 59, 13),
  tag(Y(0, 2124.75), '2124.75', '#000', '#fff', 59, 13),
  tag(Y(1, 5519), '5519', '#0a0ae0', '#fff', 42, 14),
  tag(Y(2, 92.99), '92.99', '#1e7d1e', '#fff', 45, 14),
  tag(Y(3, -0.58) + 4, '-0.39', '#33ee33', '#000', 41, 14, 8),
  tag(Y(3, -0.58), '-0.58', '#1a701a', '#fff', 41, 14),
  tag(Y(4, 72.78), '72.78', '#2e8b2e', '#fff', 45, 14),
  tag(Y(4, 27.22), '27.22', '#ee0000', '#fff', 45, 14)
);
chart.setOption({graphic: graphics});
</script></body></html>
